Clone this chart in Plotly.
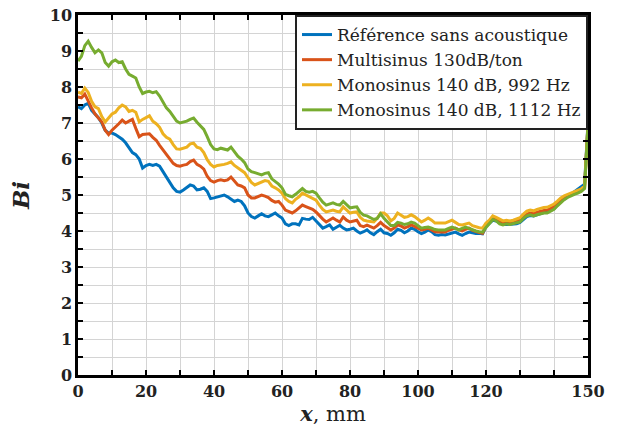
import plotly.graph_objects as go

# position along the sample, mm (one reading every mm)
x_mm = list(range(0, 151))

ref_sans = [
    7.45, 7.40, 7.50, 7.55, 7.35, 7.25, 7.15, 7.00, 6.80, 6.72,
    6.72, 6.68, 6.62, 6.55, 6.45, 6.30, 6.18, 6.12, 6.00, 5.75,
    5.82, 5.85, 5.82, 5.85, 5.80, 5.65, 5.50, 5.35, 5.20, 5.10,
    5.08, 5.14, 5.20, 5.28, 5.25, 5.14, 5.16, 5.20, 5.10, 4.90,
    4.92, 4.95, 4.96, 5.00, 4.95, 4.88, 4.82, 4.86, 4.82, 4.70,
    4.50, 4.40, 4.36, 4.42, 4.48, 4.42, 4.40, 4.45, 4.50, 4.42,
    4.36, 4.20, 4.15, 4.20, 4.20, 4.17, 4.35, 4.33, 4.32, 4.38,
    4.27, 4.18, 4.08, 4.12, 4.17, 4.05, 4.10, 4.16, 4.08, 4.03,
    4.05, 4.08, 4.00, 3.94, 3.98, 4.03, 3.95, 3.90, 3.98, 4.05,
    3.95, 3.93, 3.88, 3.95, 4.05, 4.02, 3.95, 4.00, 4.08, 4.05,
    3.98, 3.93, 3.97, 4.03, 3.98, 3.90, 3.88, 3.90, 3.89, 3.92,
    3.95, 3.97, 3.92, 3.88, 3.93, 3.97, 3.95, 3.93, 3.94, 3.92,
    4.12, 4.20, 4.30, 4.28, 4.22, 4.18, 4.18, 4.18, 4.20, 4.20,
    4.24, 4.33, 4.40, 4.43, 4.42, 4.45, 4.48, 4.50, 4.52, 4.57,
    4.62, 4.72, 4.82, 4.88, 4.95, 5.02, 5.08, 5.15, 5.22, 5.30,
    7.02,
]

multisinus_130 = [
    7.72, 7.70, 7.80, 7.60, 7.42, 7.25, 7.15, 7.03, 6.80, 6.68,
    6.80, 6.88, 6.98, 7.08, 7.00, 7.05, 7.10, 6.85, 6.62, 6.68,
    6.70, 6.70, 6.60, 6.52, 6.38, 6.25, 6.12, 6.00, 5.88, 5.82,
    5.80, 5.83, 5.85, 5.93, 5.97, 5.85, 5.80, 5.72, 5.52, 5.40,
    5.36, 5.40, 5.42, 5.40, 5.42, 5.50, 5.38, 5.28, 5.25, 5.20,
    5.00, 4.92, 4.92, 4.96, 5.00, 4.97, 4.93, 4.85, 4.80, 4.82,
    4.72, 4.58, 4.53, 4.50, 4.56, 4.65, 4.72, 4.68, 4.64, 4.60,
    4.53, 4.42, 4.33, 4.25, 4.30, 4.36, 4.30, 4.25, 4.39, 4.30,
    4.25, 4.28, 4.30, 4.15, 4.12, 4.16, 4.12, 4.08, 4.15, 4.24,
    4.15, 4.08, 4.03, 4.08, 4.17, 4.14, 4.08, 4.12, 4.17, 4.13,
    4.07, 4.03, 4.05, 4.08, 4.03, 3.98, 3.97, 3.97, 3.97, 4.02,
    4.06, 4.08, 4.03, 4.00, 4.05, 4.08, 4.02, 3.98, 3.96, 3.94,
    4.15, 4.24, 4.36, 4.32, 4.25, 4.22, 4.25, 4.23, 4.25, 4.27,
    4.30, 4.40, 4.47, 4.50, 4.48, 4.52, 4.55, 4.57, 4.58, 4.63,
    4.68, 4.78, 4.87, 4.93, 4.98, 5.02, 5.06, 5.10, 5.15, 5.22,
    6.97,
]

monosinus_992 = [
    7.86, 7.82, 7.97, 7.85, 7.60, 7.45, 7.40, 7.18, 7.03, 7.15,
    7.25, 7.30, 7.42, 7.50, 7.45, 7.32, 7.35, 7.30, 7.03, 7.10,
    7.14, 7.20, 7.05, 6.98, 6.88, 6.70, 6.60, 6.55, 6.40, 6.28,
    6.27, 6.30, 6.33, 6.42, 6.44, 6.33, 6.30, 6.18, 5.98, 5.85,
    5.78, 5.82, 5.83, 5.85, 5.88, 5.92, 5.82, 5.75, 5.70, 5.62,
    5.48, 5.35, 5.28, 5.32, 5.36, 5.40, 5.38, 5.25, 5.20, 5.14,
    5.05, 4.90, 4.82, 4.78, 4.88, 4.95, 5.05, 5.00, 4.95, 4.92,
    4.86, 4.72, 4.60, 4.53, 4.56, 4.58, 4.55, 4.53, 4.67, 4.58,
    4.50, 4.52, 4.53, 4.38, 4.30, 4.28, 4.26, 4.25, 4.35, 4.50,
    4.50, 4.42, 4.28, 4.35, 4.50, 4.45, 4.38, 4.40, 4.45, 4.40,
    4.32, 4.25, 4.30, 4.36, 4.30, 4.22, 4.22, 4.22, 4.22, 4.26,
    4.30, 4.24, 4.18, 4.17, 4.20, 4.22, 4.15, 4.11, 4.09, 4.08,
    4.22, 4.30, 4.42, 4.38, 4.32, 4.28, 4.30, 4.28, 4.30, 4.33,
    4.37, 4.47, 4.55, 4.58, 4.56, 4.60, 4.63, 4.65, 4.66, 4.70,
    4.75, 4.83, 4.92, 4.98, 5.02, 5.05, 5.08, 5.12, 5.17, 5.25,
    6.98,
]

monosinus_1112 = [
    8.72, 8.85, 9.15, 9.27, 9.10, 8.95, 9.03, 8.95, 8.68, 8.58,
    8.70, 8.75, 8.68, 8.70, 8.50, 8.35, 8.30, 8.25, 8.00, 7.82,
    7.86, 7.88, 7.84, 7.87, 7.75, 7.58, 7.42, 7.32, 7.20, 7.05,
    7.00, 7.02, 7.05, 7.10, 7.14, 7.02, 6.92, 6.82, 6.62, 6.40,
    6.28, 6.26, 6.30, 6.28, 6.25, 6.33, 6.20, 6.08, 6.00, 5.90,
    5.72, 5.65, 5.62, 5.58, 5.56, 5.60, 5.62, 5.45, 5.38, 5.30,
    5.20, 5.02, 4.98, 4.95, 5.02, 5.10, 5.18, 5.10, 5.08, 5.10,
    5.05, 4.92, 4.80, 4.72, 4.75, 4.78, 4.74, 4.72, 4.82, 4.72,
    4.64, 4.66, 4.67, 4.52, 4.44, 4.42, 4.38, 4.32, 4.35, 4.48,
    4.35, 4.24, 4.15, 4.15, 4.24, 4.22, 4.18, 4.20, 4.25, 4.22,
    4.15, 4.08, 4.10, 4.11, 4.08, 4.04, 4.03, 4.03, 4.03, 4.07,
    4.11, 4.07, 4.03, 4.07, 4.11, 4.07, 4.03, 4.00, 3.98, 3.97,
    4.10, 4.20, 4.32, 4.28, 4.20, 4.17, 4.20, 4.18, 4.20, 4.22,
    4.25, 4.35, 4.42, 4.45, 4.42, 4.45, 4.48, 4.50, 4.50, 4.55,
    4.60, 4.70, 4.80, 4.87, 4.93, 4.98, 5.02, 5.05, 5.10, 5.18,
    6.95,
]

series = [
    ("Référence sans acoustique", ref_sans, "#0072BD"),
    ("Multisinus 130dB/ton", multisinus_130, "#D95319"),
    ("Monosinus 140 dB, 992 Hz", monosinus_992, "#EDB120"),
    ("Monosinus 140 dB, 1112 Hz", monosinus_1112, "#77AC30"),
]

x_ticks = [0, 20, 40, 60, 80, 100, 120, 150]
x_grid = list(range(0, 151, 10))
y_ticks = list(range(0, 11))

serif = "'DejaVu Serif', 'Liberation Serif', serif"

fig = go.Figure()
for name, vals, col in series:
    fig.add_trace(go.Scatter(
        x=x_mm, y=vals, mode="lines", name=name,
        line=dict(color=col, width=3),
    ))

axis_common = dict(
    showline=True, linecolor="black", linewidth=2.5, mirror="ticks",
    ticks="inside", ticklen=5, tickwidth=2, tickcolor="black",
    showgrid=True, gridcolor="#d4d4d4", gridwidth=1, zeroline=False,
    tickfont=dict(family=serif, size=16, color="#222"),
    automargin=False, ticklabeloverflow="allow",
)

fig.update_xaxes(
    range=[0, 150], tickvals=x_ticks,
    ticktext=["<b>%d</b>" % v for v in x_ticks],
    minor=dict(tickvals=x_grid, showgrid=True, gridcolor="#d4d4d4",
               ticks="inside", ticklen=5, tickwidth=2, tickcolor="black"),
    title=dict(text="<b><i>x</i></b>, mm", standoff=4,
               font=dict(family=serif, size=21, color="#222")),
    **axis_common,
)
fig.update_yaxes(
    range=[0, 10], tickvals=y_ticks,
    ticktext=["<b>%d</b>" % v for v in y_ticks],
    minor=dict(dtick=0.5, showgrid=True, gridcolor="#d4d4d4",
               ticks="inside", ticklen=5, tickwidth=2, tickcolor="black"),
    title=dict(text="<b><i>Bi</i></b>", standoff=14,
               font=dict(family=serif, size=23, color="#222")),
    **axis_common,
)

fig.update_layout(
    width=621, height=432,
    margin=dict(l=78, r=33, t=15, b=57),
    paper_bgcolor="white", plot_bgcolor="white",
    font=dict(family=serif, color="#222"),
    legend=dict(
        x=1, y=1, xanchor="right", yanchor="top",
        bgcolor="white", bordercolor="#222", borderwidth=2,
        font=dict(family=serif, size=17, color="#222"),
        itemwidth=30, tracegroupgap=0,
    ),
    showlegend=True,
)

# drop the page's default body margin so the figure sits at the window corner
fig.write_html("out.html", config={"displayModeBar": False},
               post_script="document.body.style.margin = '0';")
